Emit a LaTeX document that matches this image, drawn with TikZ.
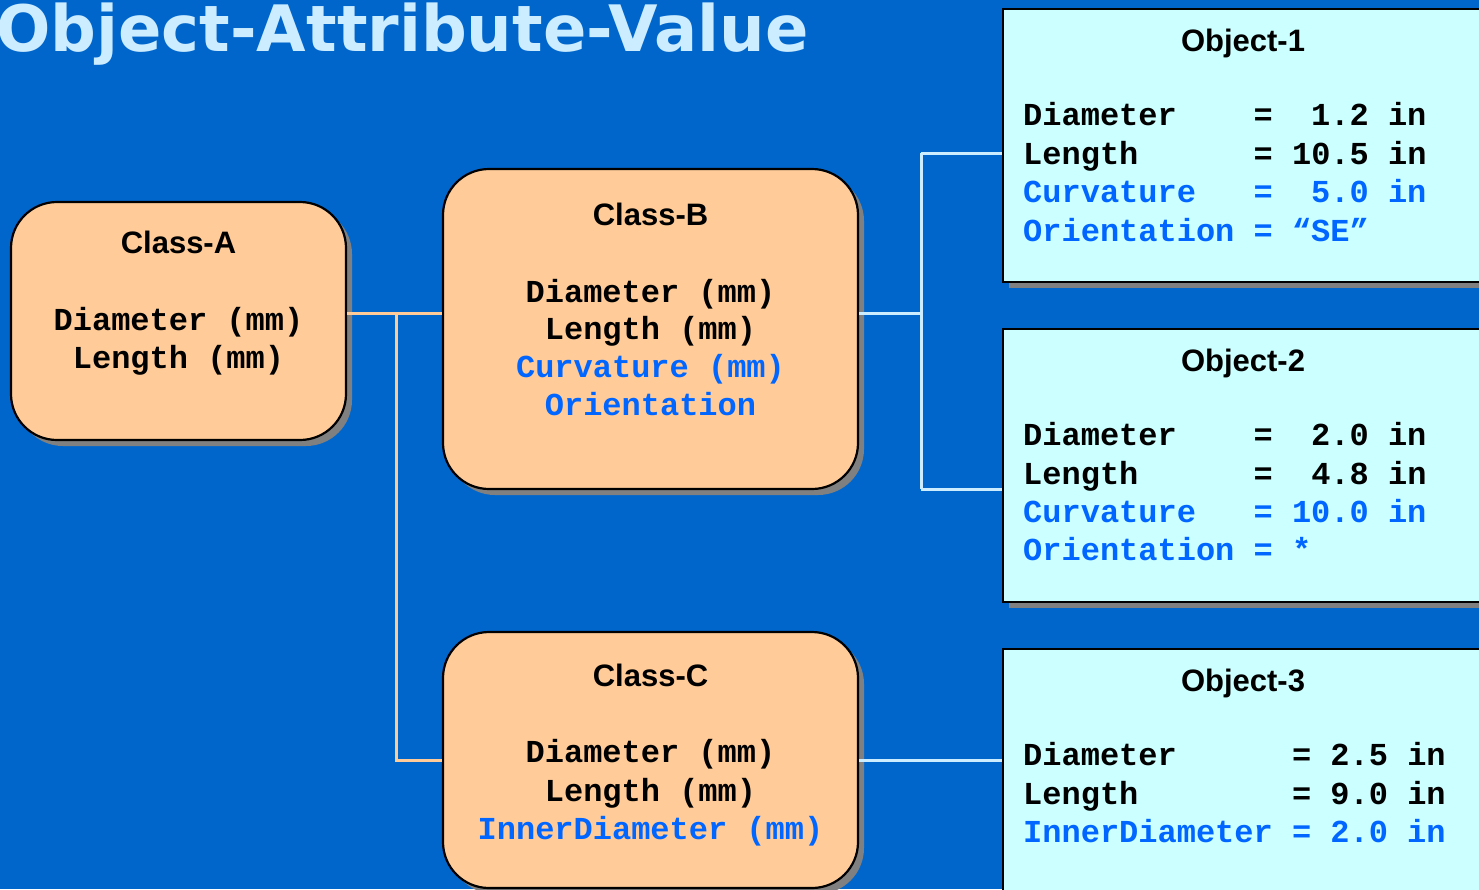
\documentclass[tikz,border=0pt]{standalone}
\usepackage{fontspec}
\setmainfont{Liberation Sans}
\setmonofont{Liberation Mono}
\newfontfamily\headfont{DejaVu Sans}
\usetikzlibrary{shadows}
\definecolor{bgblue}{HTML}{0066CC}
\definecolor{classfill}{HTML}{FFCC99}
\definecolor{objfill}{HTML}{CCFFFF}
\definecolor{attrblue}{HTML}{0066FF}
\definecolor{paleblue}{HTML}{CCECFF}
\definecolor{shadowgray}{HTML}{808080}
\begin{document}
\begin{tikzpicture}[x=1pt,y=-1pt,
  boxshadow/.style={drop shadow={shadow xshift=6pt,shadow yshift=-6pt,fill=shadowgray,opacity=1}},
  classbox/.style={draw=black,line width=2.2pt,fill=classfill,rounded corners=46pt,inner sep=0pt,boxshadow},
  objbox/.style={draw=black,line width=2.2pt,fill=objfill,inner sep=0pt,boxshadow},
  boxtitle/.style={font=\bfseries\fontsize{31}{37}\selectfont,inner sep=0pt,anchor=base},
  attr/.style={font=\ttfamily\bfseries\fontsize{32}{38}\selectfont,inner sep=0pt},
  clsline/.style={attr,anchor=base},
  objline/.style={attr,anchor=base west},
  inherit/.style={draw=classfill,line width=3pt},
  instance/.style={draw=paleblue,line width=3pt}]

% page and background
\useasboundingbox (0,0) rectangle (1479,889);
\fill[bgblue] (0,0) rectangle (1479,889);

% heading
\node[font=\headfont\bfseries\fontsize{64}{70}\selectfont,text=paleblue,inner sep=0pt,anchor=base west]
  (heading) at (-4,51) {Object-Attribute-Value};

% class boxes
\node[classbox,minimum width=335pt,minimum height=238pt] (A) at (178.5,321) {};
\node[classbox,minimum width=415pt,minimum height=320pt] (B) at (650.5,329) {};
\node[classbox,minimum width=415pt,minimum height=256pt] (C) at (650.5,760) {};

% object boxes (running past the right edge)
\node[objbox,minimum width=490pt,minimum height=273pt] (O1) at (1248,145.5) {};
\node[objbox,minimum width=490pt,minimum height=273pt] (O2) at (1248,465.5) {};
\node[objbox,minimum width=490pt,minimum height=273pt] (O3) at (1248,785.5) {};

% Class-A
\node[boxtitle] (At) at (178.5,253.5) {Class-A};
\node[clsline] (A1) at (178.5,330) {Diameter (mm)};
\node[clsline] (A2) at (178.5,368) {Length (mm)};

% Class-B
\node[boxtitle] (Bt) at (650.5,225.5) {Class-B};
\node[clsline] (B1) at (650.5,302) {Diameter (mm)};
\node[clsline] (B2) at (650.5,339.5) {Length (mm)};
\node[clsline,text=attrblue] (B3) at (650.5,377) {Curvature (mm)};
\node[clsline,text=attrblue] (B4) at (650.5,415) {Orientation};

% Class-C
\node[boxtitle] (Ct) at (650.5,686.5) {Class-C};
\node[clsline] (C1) at (650.5,762) {Diameter (mm)};
\node[clsline] (C2) at (650.5,801) {Length (mm)};
\node[clsline,text=attrblue] (C3) at (650.5,839) {InnerDiameter (mm)};

% Object-1
\node[boxtitle] (O1t) at (1243,51.5) {Object-1};
\node[objline] (O1a) at (1023,125) {Diameter~~~~=~~1.2 in};
\node[objline] (O1b) at (1023,164) {Length~~~~~~= 10.5 in};
\node[objline,text=attrblue] (O1c) at (1023,202) {Curvature~~~=~~5.0 in};
\node[objline,text=attrblue] (O1d) at (1023,241) {Orientation = “SE”};

% Object-2
\node[boxtitle] (O2t) at (1243,371.5) {Object-2};
\node[objline] (O2a) at (1023,445) {Diameter~~~~=~~2.0 in};
\node[objline] (O2b) at (1023,484) {Length~~~~~~=~~4.8 in};
\node[objline,text=attrblue] (O2c) at (1023,522) {Curvature~~~= 10.0 in};
\node[objline,text=attrblue] (O2d) at (1023,560) {Orientation = *};

% Object-3
\node[boxtitle] (O3t) at (1243,691.5) {Object-3};
\node[objline] (O3a) at (1023,765) {Diameter~~~~~~= 2.5 in};
\node[objline] (O3b) at (1023,804) {Length~~~~~~~~= 9.0 in};
\node[objline,text=attrblue] (O3c) at (1023,842) {InnerDiameter = 2.0 in};

% class hierarchy: A to B and C
\coordinate (jA) at (396,313);
\draw[inherit] (A.east |- jA) -- (B.west |- jA);
\draw[inherit] (jA) -- (jA |- C.west) -- (C.west);

% instances: B to objects 1 and 2, C to object 3
\coordinate (jB) at (921,313);
\coordinate (t1) at (921,153);
\coordinate (t2) at (921,489);
\draw[instance] (B.east |- jB) -- (jB);
\draw[instance] (t1) -- (t2);
\draw[instance] (t1) -- (O1.west |- t1);
\draw[instance] (t2) -- (O2.west |- t2);
\draw[instance] (C.east) -- (O3.west |- C.east);
\end{tikzpicture}
\end{document}
